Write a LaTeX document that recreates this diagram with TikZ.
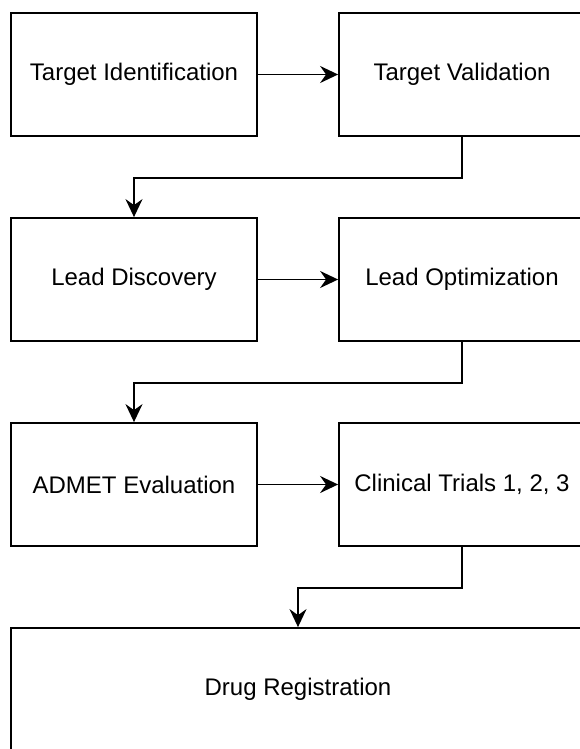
\documentclass[tikz,border=0pt]{standalone}
\usepackage{fontspec}
\setmainfont{Liberation Sans}
\usetikzlibrary{arrows.meta, positioning}

\begin{document}
\begin{tikzpicture}[
        x=1pt, y=1pt,
        node distance=205pt,
        stage/.style={rectangle, draw=black, line width=1.8pt, fill=white, minimum width=246pt,
                      minimum height=123pt, text centered, font=\fontsize{24}{28}\selectfont},
        arrow/.style={line width=1.8pt, -{Stealth[length=18pt, width=17pt, inset=6pt]}}
    ]
        \useasboundingbox (-134,74.5) rectangle (445,-674.5);

        \node[stage] (targetid) {Target Identification};
        \node[stage, right of=targetid, xshift=123pt] (targetval) {Target Validation};

        \node[stage, below of=targetid] (leaddisc) {Lead Discovery};
        \node[stage, right of=leaddisc, xshift=123pt] (leadopt) {Lead Optimization};

        \node[stage, below of=leaddisc] (admet) {ADMET Evaluation};
        \node[stage, right of=admet, xshift=123pt] (clinical) {Clinical Trials 1, 2, 3};

        \node[stage, below of=admet, xshift=164pt, minimum width=574pt] (registration) {Drug Registration};

        \draw[arrow] (targetid) -- (targetval);
        \draw[arrow] (targetval.south) -- ++(0,-41) -| (leaddisc.north);

        \draw[arrow] (leaddisc) -- (leadopt);
        \draw[arrow] (leadopt.south) -- ++(0,-41) -| (admet.north);

        \draw[arrow] (admet) -- (clinical);
        \draw[arrow] (clinical.south) -- ++(0,-41) -| (registration.north);
    \end{tikzpicture}
\end{document}
